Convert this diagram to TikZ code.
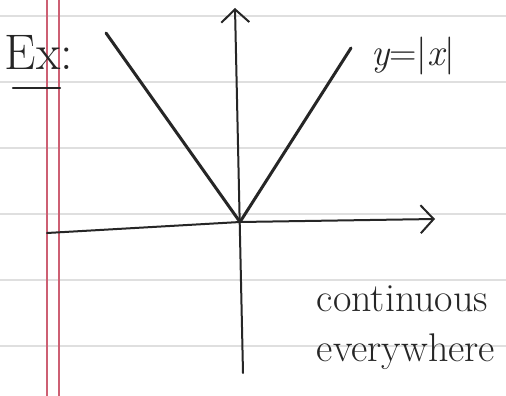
\documentclass[tikz,border=0pt]{standalone}
\usepackage{tikz}
\usetikzlibrary{arrows.meta, positioning}

\definecolor{marginred}{RGB}{205,95,115}

\begin{document}
\begin{tikzpicture}[
  x=1pt, y=-1pt,
  every node/.style={font=\fontsize{34}{40}\selectfont, text=black!85, inner sep=0pt},
  ruled/.style={gray!25, line width=1.2pt},
  margin/.style={marginred, line width=1.2pt},
  pen/.style={black!85, line width=3pt, line cap=round, line join=round},
  axis/.style={black!85, line width=2pt, line cap=round, -{Straight Barb[length=13pt, width=28pt, line width=2pt]}}
]
  \useasboundingbox[fill=white] (0,0) rectangle (506,396);

  % ruled paper
  \foreach \y in {16,82,...,346}
    \draw[ruled] (0,\y) -- (506,\y);
  \draw[margin] (47,0) -- (47,396);
  \draw[margin] (59,0) -- (59,396);

  % axes and graph
  \coordinate (O) at (240,222);
  \coordinate (xl) at (47,233);
  \coordinate (xr) at (435,219);
  \coordinate (yb) at (243,373);
  \coordinate (yt) at (235,8);
  \coordinate (vl) at (106,33);
  \coordinate (vr) at (351,48);

  \draw[axis] (xl) -- (O) -- (xr);
  \draw[axis] (yb) -- (yt);
  \draw[pen] (vl) -- (O) -- (vr);

  % labels
  \node[font=\fontsize{50}{54}\selectfont] (ex) at (39,52) {Ex:};
  \coordinate (ul) at (13,88);
  \coordinate (ur) at (60,88);
  \draw[pen, line width=2.2pt] (ul) -- (ur);
  \node[font=\fontsize{38}{42}\selectfont] (absx) at (413,56) {\itshape y\upshape=|\itshape x\upshape|};
  \node[align=left, font=\fontsize{40}{50}\selectfont] (cont) at (406,328) {continuous\\everywhere};
\end{tikzpicture}
\end{document}
